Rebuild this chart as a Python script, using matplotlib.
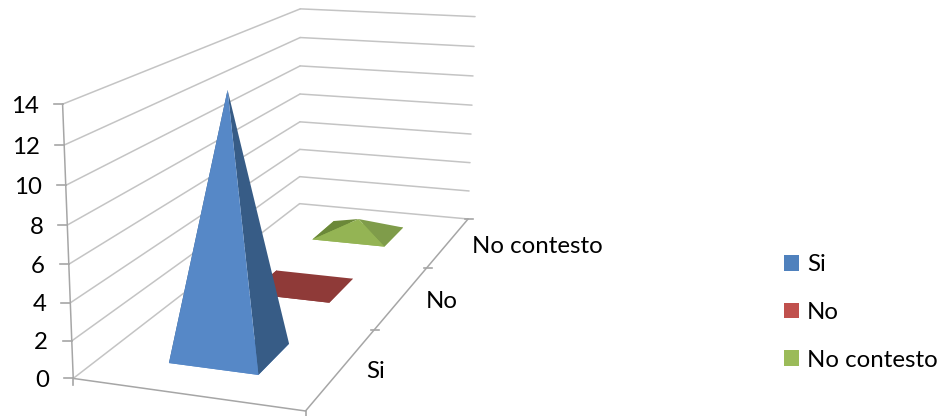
import numpy as np
import matplotlib
matplotlib.use('Agg')
import matplotlib.pyplot as plt
from matplotlib.patches import Patch, Polygon

plt.rcParams['font.family'] = ['Lato', 'DejaVu Sans']

categories = ['Si', 'No', 'No contesto']
values = [14, 0, 1]
z_ticks = [0, 2, 4, 6, 8, 10, 12, 14]

legend_colors = ['#4F81BD', '#C0504D', '#9BBB59']
# front, right and left faces of each pyramid
face_colors = [
    ('#5688C7', '#375C86', '#375C86'),
    ('#8F3A38', '#8F3A38', '#8F3A38'),
    ('#94B454', '#7F9C4A', '#6B8839'),
]

GRID = '#C4C4C4'
AXIS = '#A6A6A6'
BAR = 0.4  # width of a pyramid base inside its slot
FONT = 17.3

# box corners (x, depth, height) and where they land on the canvas
box = np.array([
    [0, 0, 0], [1, 0, 0], [1, 3, 0], [0, 3, 0],
    [0, 0, 14], [0, 3, 14], [1, 3, 14],
    [1, 1, 0], [1, 2, 0], [0, 0, 8], [0, 3, 8], [1, 3, 8],
], dtype=float)
canvas = np.array([
    [73, 378], [303, 410.7], [467, 219.3], [300, 204],
    [63.3, 105], [300, 8.3], [476, 16.7],
    [376.7, 330], [428, 268], [66.7, 225], [300, 94], [470.5, 105],
], dtype=float)


def fit_camera(world, image):
    rows, rhs = [], []
    for (x, y, z), (u, v) in zip(world, image):
        rows.append([x, y, z, 1, 0, 0, 0, 0, -u * x, -u * y, -u * z])
        rows.append([0, 0, 0, 0, x, y, z, 1, -v * x, -v * y, -v * z])
        rhs += [u, v]
    p = np.linalg.lstsq(np.array(rows), np.array(rhs), rcond=None)[0]
    return np.append(p, 1).reshape(3, 4)


cam = fit_camera(box, canvas)


def proj(x, y, z):
    h = cam @ np.array([x, y, z, 1.0])
    return h[0] / h[2], h[1] / h[2]


fig = plt.figure(figsize=(9.45, 4.16), dpi=100)
ax = fig.add_axes([0, 0, 1, 1])
ax.set_xlim(0, 945)
ax.set_ylim(416, 0)
ax.axis('off')


def line(a, b, color=GRID, lw=1.1, zorder=1):
    p, q = proj(*a), proj(*b)
    ax.plot([p[0], q[0]], [p[1], q[1]], color=color, lw=lw, zorder=zorder,
            solid_capstyle='round')


# walls
for z in z_ticks:
    line((0, 0, z), (0, 3, z))
    line((0, 3, z), (1, 3, z))
    px, py = proj(0, 0, z)
    ax.plot([px - 9, px], [py, py], color=AXIS, lw=1.2, zorder=1)
    ax.text(px - 24, py + 2, str(z), ha='right', va='center', fontsize=FONT,
            color='black')
line((0, 0, 0), (0, 0, 14), color=AXIS)

# floor edges and tick marks
line((0, 0, 0), (1, 0, 0), color=AXIS)
line((1, 0, 0), (1, 3, 0), color=AXIS)
for d in range(1, 4):
    px, py = proj(1, d, 0)
    ax.plot([px - 3, px + 5], [py, py], color=AXIS, lw=1.2, zorder=1)
for x in [0, 1]:
    px, py = proj(x, 0, 0)
    ax.plot([px, px], [py, py + 7], color=AXIS, lw=1.2, zorder=1)

for i, name in enumerate(categories):
    px, py = proj(1, i + 0.5, 0)
    ax.text(px + 24, py + 4, name, ha='left', va='center', fontsize=FONT,
            color='black')

# pyramids, back row first
lo, hi = 0.5 - BAR / 2, 0.5 + BAR / 2
for i in range(len(categories) - 1, -1, -1):
    front_l = proj(lo, i + lo, 0)
    front_r = proj(hi, i + lo, 0)
    back_r = proj(hi, i + hi, 0)
    back_l = proj(lo, i + hi, 0)
    apex = proj(0.5, i + 0.5, values[i])
    front, right, left = face_colors[i]
    z = 3 + len(categories) - i
    ax.add_patch(Polygon([front_l, front_r, back_r, back_l], fc=front, ec='none', zorder=z))
    ax.add_patch(Polygon([front_l, back_l, apex], fc=left, ec='none', zorder=z))
    ax.add_patch(Polygon([front_r, back_r, apex], fc=right, ec='none', zorder=z))
    ax.add_patch(Polygon([front_l, front_r, apex], fc=front, ec='none', zorder=z))

handles = [Patch(fc=c, ec='none') for c in legend_colors]
ax.legend(handles, categories, loc='upper left', bbox_to_anchor=(776.8 / 945, 1 - 247 / 416),
          frameon=False, fontsize=FONT, handlelength=0.625, handleheight=0.625,
          handletextpad=0.33, labelspacing=1.11, borderpad=0.3, borderaxespad=0)

fig.savefig('out.png', dpi=100)
